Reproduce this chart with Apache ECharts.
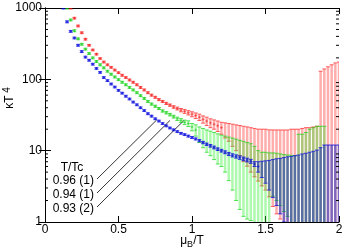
<!DOCTYPE html>
<html><head><meta charset="utf-8">
<script src="https://cdn.jsdelivr.net/npm/echarts@6/dist/echarts.min.js"></script>
<style>html,body{margin:0;padding:0;background:#fff}#c{width:350px;height:250px}</style>
</head><body><div id="c"></div>
<script>
// mu_B/T grid
const mu = [0.1,0.125,0.15,0.175,0.2,0.225,0.25,0.275,0.3,0.325,0.35,0.375,0.4,0.425,0.45,0.475,0.5,0.525,0.55,0.575,0.6,0.625,0.65,0.675,0.7,0.725,0.75,0.775,0.8,0.825,0.85,0.875,0.9,0.925,0.95,0.975,1.0,1.025,1.05,1.075,1.1,1.125,1.15,1.175,1.2,1.225,1.25,1.275,1.3,1.325,1.35,1.375,1.4,1.425,1.45,1.475,1.5,1.525,1.55,1.575,1.6,1.625,1.65,1.675,1.7,1.725,1.75,1.775,1.8,1.825,1.85,1.875,1.9,1.925,1.95,1.975,2.0];

// T/Tc = 0.96 (red)
const kRed = [null,null,null,1000,720,560,450,365,300,258,225,196,175,160,147,135,124,114,106,98,91,84,77,71,65,60,56,52,49,46,43.5,41,39,37,35.5,34,32.5,31,29.5,27.5,26,24.5,23.5,22.3,21,19.8,18.8,17.5,16.5,15.5,14.5,13.8,13,12.4,11.9,11.6,11.4,10.9,10.6,10.4,10.3,10,9.5,9.5,9.5,9,9,9,9,9,9,50,50,50,50,50,50];
const eRed = [null,null,null,30,20,16,13,10,8,7,6,5,5,4.5,4,4,3.5,3.5,3,3,2.8,2.6,2.4,2.2,2,1.9,1.8,1.7,1.6,1.6,1.6,1.7,1.8,2,2.2,2.4,2.6,2.8,3,3.2,3.5,3.5,3.5,3.75,4,4.75,5.25,6,6.5,7,7.5,7.75,8,8.1,8.15,8.4,8.6,8.65,8.95,9.1,9.2,9.5,10,10.5,10.5,11,11.5,12,12,12.5,13,80,90,100,110,120,125];

// T/Tc = 0.94 (green)
const kGreen = [null,null,1000,680,480,370,310,265,230,200,178,160,145,130,118,108,99,91,84,77,71,65,59,54,49,45,42,39,36,34,32,30,28,26.5,25,24,21.5,19.5,17.25,15.75,14.5,13.65,12.75,11.85,11.25,10.5,9.65,8.9,8.25,7.75,7.35,7.05,6.78,5.5,4.8,4.5,4.5,4.5,5.8,5.6,5.35,5.1,4.95,4.2,4,8,8,8.5,9.5,10,10.5,10.5,10.5,null,null,null,null];
const eGreen = [null,null,30,20,15,11,9,8,7,6,5.5,5,4.5,4,3.6,3.3,3,2.8,2.6,2.4,2.2,2,1.8,1.7,1.6,1.5,1.4,1.3,1.3,1.3,1.3,1.4,1.5,1.6,1.8,2.2,2.5,3.5,4.25,4.75,5,5.15,5.25,5.35,5.25,5.5,5.85,6.1,6.25,6.25,6.15,5.95,5.73,6,5.2,5,5,4.8,3.5,3.6,3.65,3.7,3.75,4.4,4.5,9,9,9.5,10.5,11,11.5,11.5,11.5,null,null,null,null];

// T/Tc = 0.93 (blue)
const kBlue = [null,1000,640,470,380,300,245,205,185,163,142,125,106,96,86,78,70,64,58,53,48,44,40,36.5,33,30.5,28,26,24,22.3,20.8,19.6,18.5,17.5,16.8,16,15.3,14.6,13.8,13,12.3,11.7,11.1,10.5,10,9.5,9,8.6,8.3,8,7.7,7.4,7.1,6.5,6,5.65,5.35,5.05,4.85,4.7,4.55,4.5,4,4,4,4,4,4,4,4,4,4,4,4,4,4,4];
const eBlue = [null,30,20,14,11,9,7.5,6,5.4,4.7,4,3.5,3.1,2.8,2.5,2.2,2,1.8,1.7,1.5,1.4,1.3,1.1,1.05,1,0.9,0.8,0.75,0.7,0.66,0.6,0.6,0.55,0.5,0.5,0.5,0.5,0.5,0.5,0.5,0.5,0.5,0.5,0.45,0.45,0.45,0.45,0.45,0.45,0.45,0.45,0.45,0.45,0.5,1,1.45,1.85,2.25,2.65,3,3.25,3.5,4.2,4.3,4.5,4.7,5,5.2,5.5,5.8,6.2,7,8,8,8,8,8];

const legendTitle = 'T/Tc';
const legendLabels = ['0.96 (1)', '0.94 (1)', '0.93 (2)'];
const minorTicks = [2,3,4,5,6,7,8,9,20,30,40,50,60,70,80,90,200,300,400,500,600,700,800,900];

function errData(k, e) {
  const d = [];
  for (let i = 0; i < mu.length; i++) if (k[i] != null) d.push([mu[i], k[i], e[i]]);
  return d;
}

function errRenderer(barCol, capCol, ptCol) {
  return function (params, api) {
    const x = api.value(0), c = api.value(1), s = api.value(2);
    const hi = c + s, lo = c - s;
    const pH = api.coord([x, hi]);
    const loOk = lo >= 1;
    const pL = api.coord([x, loOk ? lo : 0.5]);
    const pC = api.coord([x, c]);
    const w = 2;
    const ch = [
      { type: 'line', shape: { x1: pH[0], y1: pH[1], x2: pL[0], y2: pL[1] }, style: { stroke: barCol, lineWidth: 2.5 } },
      { type: 'line', shape: { x1: pH[0] - w, y1: pH[1], x2: pH[0] + w, y2: pH[1] }, style: { stroke: capCol, lineWidth: 1 } }
    ];
    if (loOk) ch.push({ type: 'line', shape: { x1: pL[0] - w, y1: pL[1], x2: pL[0] + w, y2: pL[1] }, style: { stroke: capCol, lineWidth: 1 } });
    if (s / c < 0.2) {
      ch.push({ type: 'line', shape: { x1: pC[0] - 1.5, y1: pC[1], x2: pC[0] + 1.5, y2: pC[1] }, style: { stroke: ptCol, lineWidth: 1 } });
      ch.push({ type: 'line', shape: { x1: pC[0], y1: pC[1] - 1.5, x2: pC[0], y2: pC[1] + 1.5 }, style: { stroke: ptCol, lineWidth: 1 } });
    }
    return { type: 'group', children: ch };
  };
}

const chart = echarts.init(document.getElementById('c'), null, { renderer: 'canvas' });
const axisCommon = {
  axisLine: { lineStyle: { color: '#000', width: 1 } },
  axisTick: { inside: true, length: 6, lineStyle: { color: '#000' } },
  splitLine: { show: false }
};
chart.setOption({
  animation: false,
  grid: { left: 45, right: 11, top: 8, bottom: 28 },
  xAxis: [
    Object.assign({ type: 'value', min: 0, max: 2, interval: 0.5, position: 'bottom',
      axisLabel: { color: '#000', fontSize: 12, margin: 2, fontFamily: 'Liberation Sans' } }, axisCommon),
    Object.assign({ type: 'value', min: 0, max: 2, interval: 0.5, position: 'top',
      axisLabel: { show: false } }, axisCommon)
  ],
  yAxis: [
    Object.assign({ type: 'log', logBase: 10, min: 1, max: 1000, position: 'left',
      axisLabel: { color: '#000', fontSize: 12, margin: 3, fontFamily: 'Liberation Sans', formatter: v => String(Math.round(v)) } }, axisCommon),
    Object.assign({ type: 'log', logBase: 10, min: 1, max: 1000, position: 'right',
      axisLabel: { show: false } }, axisCommon)
  ],
  series: [
    { type: 'custom', clip: true, renderItem: errRenderer('rgba(255,40,40,0.38)', 'rgba(255,0,0,0.6)', 'rgba(230,0,0,0.45)'), data: errData(kRed, eRed), z: 2 },
    { type: 'custom', clip: true, renderItem: errRenderer('rgba(40,240,40,0.38)', 'rgba(0,210,0,0.65)', 'rgba(0,190,0,0.45)'), data: errData(kGreen, eGreen), z: 3 },
    { type: 'custom', clip: true, renderItem: errRenderer('rgba(20,40,200,0.55)', 'rgba(0,0,230,0.7)', 'rgba(0,0,220,0.5)'), data: errData(kBlue, eBlue), z: 4 },
    { type: 'custom', clip: true, silent: true, z: 5,
      renderItem: function (params, api) {
        const v = api.value(0);
        const pl = api.coord([0, v]), pr = api.coord([2, v]);
        return { type: 'group', children: [
          { type: 'line', shape: { x1: pl[0], y1: pl[1], x2: pl[0] + 3, y2: pl[1] }, style: { stroke: '#000', lineWidth: 1 } },
          { type: 'line', shape: { x1: pr[0] - 3, y1: pr[1], x2: pr[0], y2: pr[1] }, style: { stroke: '#000', lineWidth: 1 } }
        ] };
      },
      data: minorTicks.map(v => [v]),
      encode: { y: 0 }
    }
  ]
});

// annotation: legend text and pointer lines (anchored in data coordinates)
const pointerTargets = [[0.76, 27], [0.85, 26.5], [0.945, 26.5]];
const txtStyle = { fill: '#000', fontSize: 12, fontFamily: 'Liberation Sans' };
const g = [
  { type: 'text', x: 72, y: 168, style: Object.assign({ text: legendTitle, align: 'center', verticalAlign: 'middle' }, txtStyle) }
];
const labelY = [181, 195, 209];
legendLabels.forEach((t, i) => {
  g.push({ type: 'text', x: 94, y: labelY[i], style: Object.assign({ text: t, align: 'right', verticalAlign: 'middle' }, txtStyle) });
  const p = chart.convertToPixel({ gridIndex: 0 }, pointerTargets[i]);
  g.push({ type: 'line', shape: { x1: 97, y1: labelY[i] - 2, x2: p[0], y2: p[1] }, style: { stroke: '#000', lineWidth: 0.8 } });
});
// axis titles
g.push({ type: 'text', x: 192, y: 241, style: {
  text: '{m|μ}{s|B}{m|/T}', align: 'center', verticalAlign: 'middle',
  rich: { m: { fontSize: 12, fontFamily: 'Liberation Sans', fill: '#000' }, s: { fontSize: 9, fontFamily: 'Liberation Sans', fill: '#000', padding: [7, 0, 0, 0] } } } });
g.push({ type: 'text', x: 10, y: 98, rotation: Math.PI / 2, style: {
  text: '{m|κT}{s| 4}', align: 'center', verticalAlign: 'middle',
  rich: { m: { fontSize: 12, fontFamily: 'Liberation Sans', fill: '#000' }, s: { fontSize: 10, fontFamily: 'Liberation Sans', fill: '#000', padding: [0, 0, 6, 0] } } } });
chart.setOption({ graphic: g });
</script></body></html>
